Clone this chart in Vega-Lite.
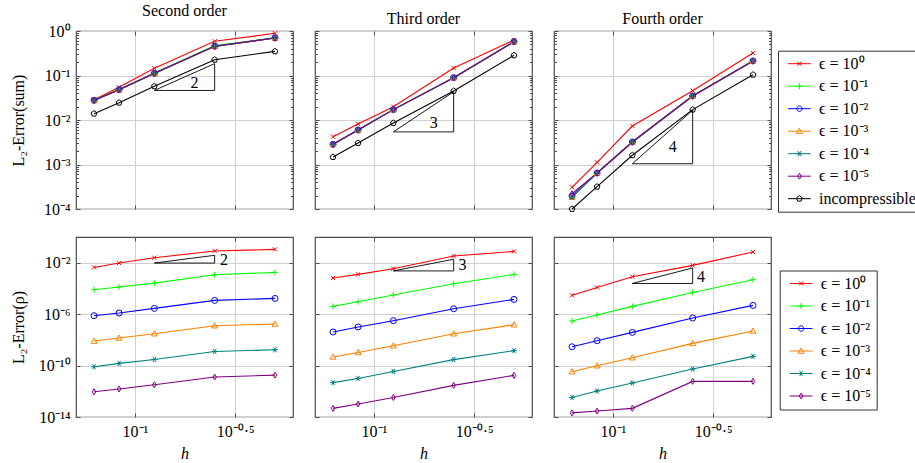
{
"$schema": "https://vega.github.io/schema/vega-lite/v6.json",
"padding": {"left": 9, "top": 2, "right": 0, "bottom": 0},
"datasets": {
"curves": [
{"row":"sum","panel":"Second order","series":"ϵ = 10⁰","h":0.0625,"err":0.0286},
{"row":"sum","panel":"Second order","series":"ϵ = 10⁰","h":0.08333,"err":0.0543},
{"row":"sum","panel":"Second order","series":"ϵ = 10⁰","h":0.125,"err":0.145},
{"row":"sum","panel":"Second order","series":"ϵ = 10⁰","h":0.25,"err":0.587},
{"row":"sum","panel":"Second order","series":"ϵ = 10⁰","h":0.5,"err":0.887},
{"row":"sum","panel":"Second order","series":"ϵ = 10⁻¹","h":0.0625,"err":0.0282},
{"row":"sum","panel":"Second order","series":"ϵ = 10⁻¹","h":0.08333,"err":0.049},
{"row":"sum","panel":"Second order","series":"ϵ = 10⁻¹","h":0.125,"err":0.114},
{"row":"sum","panel":"Second order","series":"ϵ = 10⁻¹","h":0.25,"err":0.472},
{"row":"sum","panel":"Second order","series":"ϵ = 10⁻¹","h":0.5,"err":0.70},
{"row":"sum","panel":"Second order","series":"ϵ = 10⁻²","h":0.0625,"err":0.0277},
{"row":"sum","panel":"Second order","series":"ϵ = 10⁻²","h":0.08333,"err":0.048},
{"row":"sum","panel":"Second order","series":"ϵ = 10⁻²","h":0.125,"err":0.112},
{"row":"sum","panel":"Second order","series":"ϵ = 10⁻²","h":0.25,"err":0.455},
{"row":"sum","panel":"Second order","series":"ϵ = 10⁻²","h":0.5,"err":0.697},
{"row":"sum","panel":"Second order","series":"ϵ = 10⁻³","h":0.0625,"err":0.0275},
{"row":"sum","panel":"Second order","series":"ϵ = 10⁻³","h":0.08333,"err":0.0478},
{"row":"sum","panel":"Second order","series":"ϵ = 10⁻³","h":0.125,"err":0.111},
{"row":"sum","panel":"Second order","series":"ϵ = 10⁻³","h":0.25,"err":0.452},
{"row":"sum","panel":"Second order","series":"ϵ = 10⁻³","h":0.5,"err":0.695},
{"row":"sum","panel":"Second order","series":"ϵ = 10⁻⁴","h":0.0625,"err":0.0275},
{"row":"sum","panel":"Second order","series":"ϵ = 10⁻⁴","h":0.08333,"err":0.0478},
{"row":"sum","panel":"Second order","series":"ϵ = 10⁻⁴","h":0.125,"err":0.111},
{"row":"sum","panel":"Second order","series":"ϵ = 10⁻⁴","h":0.25,"err":0.452},
{"row":"sum","panel":"Second order","series":"ϵ = 10⁻⁴","h":0.5,"err":0.695},
{"row":"sum","panel":"Second order","series":"ϵ = 10⁻⁵","h":0.0625,"err":0.0277},
{"row":"sum","panel":"Second order","series":"ϵ = 10⁻⁵","h":0.08333,"err":0.048},
{"row":"sum","panel":"Second order","series":"ϵ = 10⁻⁵","h":0.125,"err":0.112},
{"row":"sum","panel":"Second order","series":"ϵ = 10⁻⁵","h":0.25,"err":0.453},
{"row":"sum","panel":"Second order","series":"ϵ = 10⁻⁵","h":0.5,"err":0.696},
{"row":"sum","panel":"Second order","series":"incompressible","h":0.0625,"err":0.0139},
{"row":"sum","panel":"Second order","series":"incompressible","h":0.08333,"err":0.0245},
{"row":"sum","panel":"Second order","series":"incompressible","h":0.125,"err":0.0572},
{"row":"sum","panel":"Second order","series":"incompressible","h":0.25,"err":0.226},
{"row":"sum","panel":"Second order","series":"incompressible","h":0.5,"err":0.349},
{"row":"sum","panel":"Third order","series":"ϵ = 10⁰","h":0.0625,"err":0.00422},
{"row":"sum","panel":"Third order","series":"ϵ = 10⁰","h":0.08333,"err":0.00813},
{"row":"sum","panel":"Third order","series":"ϵ = 10⁰","h":0.125,"err":0.0199},
{"row":"sum","panel":"Third order","series":"ϵ = 10⁰","h":0.25,"err":0.1475},
{"row":"sum","panel":"Third order","series":"ϵ = 10⁰","h":0.5,"err":0.628},
{"row":"sum","panel":"Third order","series":"ϵ = 10⁻¹","h":0.0625,"err":0.00288},
{"row":"sum","panel":"Third order","series":"ϵ = 10⁻¹","h":0.08333,"err":0.0060},
{"row":"sum","panel":"Third order","series":"ϵ = 10⁻¹","h":0.125,"err":0.0172},
{"row":"sum","panel":"Third order","series":"ϵ = 10⁻¹","h":0.25,"err":0.0895},
{"row":"sum","panel":"Third order","series":"ϵ = 10⁻¹","h":0.5,"err":0.577},
{"row":"sum","panel":"Third order","series":"ϵ = 10⁻²","h":0.0625,"err":0.00284},
{"row":"sum","panel":"Third order","series":"ϵ = 10⁻²","h":0.08333,"err":0.00596},
{"row":"sum","panel":"Third order","series":"ϵ = 10⁻²","h":0.125,"err":0.0171},
{"row":"sum","panel":"Third order","series":"ϵ = 10⁻²","h":0.25,"err":0.0893},
{"row":"sum","panel":"Third order","series":"ϵ = 10⁻²","h":0.5,"err":0.575},
{"row":"sum","panel":"Third order","series":"ϵ = 10⁻³","h":0.0625,"err":0.00284},
{"row":"sum","panel":"Third order","series":"ϵ = 10⁻³","h":0.08333,"err":0.00596},
{"row":"sum","panel":"Third order","series":"ϵ = 10⁻³","h":0.125,"err":0.0171},
{"row":"sum","panel":"Third order","series":"ϵ = 10⁻³","h":0.25,"err":0.0893},
{"row":"sum","panel":"Third order","series":"ϵ = 10⁻³","h":0.5,"err":0.575},
{"row":"sum","panel":"Third order","series":"ϵ = 10⁻⁴","h":0.0625,"err":0.00284},
{"row":"sum","panel":"Third order","series":"ϵ = 10⁻⁴","h":0.08333,"err":0.00596},
{"row":"sum","panel":"Third order","series":"ϵ = 10⁻⁴","h":0.125,"err":0.0171},
{"row":"sum","panel":"Third order","series":"ϵ = 10⁻⁴","h":0.25,"err":0.0893},
{"row":"sum","panel":"Third order","series":"ϵ = 10⁻⁴","h":0.5,"err":0.575},
{"row":"sum","panel":"Third order","series":"ϵ = 10⁻⁵","h":0.0625,"err":0.00284},
{"row":"sum","panel":"Third order","series":"ϵ = 10⁻⁵","h":0.08333,"err":0.00596},
{"row":"sum","panel":"Third order","series":"ϵ = 10⁻⁵","h":0.125,"err":0.0171},
{"row":"sum","panel":"Third order","series":"ϵ = 10⁻⁵","h":0.25,"err":0.0893},
{"row":"sum","panel":"Third order","series":"ϵ = 10⁻⁵","h":0.5,"err":0.575},
{"row":"sum","panel":"Third order","series":"incompressible","h":0.0625,"err":0.00147},
{"row":"sum","panel":"Third order","series":"incompressible","h":0.08333,"err":0.00304},
{"row":"sum","panel":"Third order","series":"incompressible","h":0.125,"err":0.00857},
{"row":"sum","panel":"Third order","series":"incompressible","h":0.25,"err":0.0449},
{"row":"sum","panel":"Third order","series":"incompressible","h":0.5,"err":0.284},
{"row":"sum","panel":"Fourth order","series":"ϵ = 10⁰","h":0.0625,"err":0.000307},
{"row":"sum","panel":"Fourth order","series":"ϵ = 10⁰","h":0.08333,"err":0.00112},
{"row":"sum","panel":"Fourth order","series":"ϵ = 10⁰","h":0.125,"err":0.00733},
{"row":"sum","panel":"Fourth order","series":"ϵ = 10⁰","h":0.25,"err":0.0456},
{"row":"sum","panel":"Fourth order","series":"ϵ = 10⁰","h":0.5,"err":0.32},
{"row":"sum","panel":"Fourth order","series":"ϵ = 10⁻¹","h":0.0625,"err":0.00019},
{"row":"sum","panel":"Fourth order","series":"ϵ = 10⁻¹","h":0.08333,"err":0.00065},
{"row":"sum","panel":"Fourth order","series":"ϵ = 10⁻¹","h":0.125,"err":0.00325},
{"row":"sum","panel":"Fourth order","series":"ϵ = 10⁻¹","h":0.25,"err":0.0352},
{"row":"sum","panel":"Fourth order","series":"ϵ = 10⁻¹","h":0.5,"err":0.213},
{"row":"sum","panel":"Fourth order","series":"ϵ = 10⁻²","h":0.0625,"err":0.000195},
{"row":"sum","panel":"Fourth order","series":"ϵ = 10⁻²","h":0.08333,"err":0.000644},
{"row":"sum","panel":"Fourth order","series":"ϵ = 10⁻²","h":0.125,"err":0.0032},
{"row":"sum","panel":"Fourth order","series":"ϵ = 10⁻²","h":0.25,"err":0.0346},
{"row":"sum","panel":"Fourth order","series":"ϵ = 10⁻²","h":0.5,"err":0.212},
{"row":"sum","panel":"Fourth order","series":"ϵ = 10⁻³","h":0.0625,"err":0.000185},
{"row":"sum","panel":"Fourth order","series":"ϵ = 10⁻³","h":0.08333,"err":0.00064},
{"row":"sum","panel":"Fourth order","series":"ϵ = 10⁻³","h":0.125,"err":0.0032},
{"row":"sum","panel":"Fourth order","series":"ϵ = 10⁻³","h":0.25,"err":0.0346},
{"row":"sum","panel":"Fourth order","series":"ϵ = 10⁻³","h":0.5,"err":0.212},
{"row":"sum","panel":"Fourth order","series":"ϵ = 10⁻⁴","h":0.0625,"err":0.000185},
{"row":"sum","panel":"Fourth order","series":"ϵ = 10⁻⁴","h":0.08333,"err":0.00064},
{"row":"sum","panel":"Fourth order","series":"ϵ = 10⁻⁴","h":0.125,"err":0.0032},
{"row":"sum","panel":"Fourth order","series":"ϵ = 10⁻⁴","h":0.25,"err":0.0346},
{"row":"sum","panel":"Fourth order","series":"ϵ = 10⁻⁴","h":0.5,"err":0.212},
{"row":"sum","panel":"Fourth order","series":"ϵ = 10⁻⁵","h":0.0625,"err":0.00022},
{"row":"sum","panel":"Fourth order","series":"ϵ = 10⁻⁵","h":0.08333,"err":0.000644},
{"row":"sum","panel":"Fourth order","series":"ϵ = 10⁻⁵","h":0.125,"err":0.0032},
{"row":"sum","panel":"Fourth order","series":"ϵ = 10⁻⁵","h":0.25,"err":0.0346},
{"row":"sum","panel":"Fourth order","series":"ϵ = 10⁻⁵","h":0.5,"err":0.212},
{"row":"sum","panel":"Fourth order","series":"incompressible","h":0.0625,"err":0.0001},
{"row":"sum","panel":"Fourth order","series":"incompressible","h":0.08333,"err":0.000317},
{"row":"sum","panel":"Fourth order","series":"incompressible","h":0.125,"err":0.00161},
{"row":"sum","panel":"Fourth order","series":"incompressible","h":0.25,"err":0.0171},
{"row":"sum","panel":"Fourth order","series":"incompressible","h":0.5,"err":0.104},
{"row":"rho","panel":"Second order","series":"ϵ = 10⁰","h":0.0625,"err":0.0043},
{"row":"rho","panel":"Second order","series":"ϵ = 10⁰","h":0.08333,"err":0.0095},
{"row":"rho","panel":"Second order","series":"ϵ = 10⁰","h":0.125,"err":0.0245},
{"row":"rho","panel":"Second order","series":"ϵ = 10⁰","h":0.25,"err":0.081},
{"row":"rho","panel":"Second order","series":"ϵ = 10⁰","h":0.5,"err":0.109},
{"row":"rho","panel":"Second order","series":"ϵ = 10⁻¹","h":0.0625,"err":7.9e-5},
{"row":"rho","panel":"Second order","series":"ϵ = 10⁻¹","h":0.08333,"err":1.29e-4},
{"row":"rho","panel":"Second order","series":"ϵ = 10⁻¹","h":0.125,"err":2.6e-4},
{"row":"rho","panel":"Second order","series":"ϵ = 10⁻¹","h":0.25,"err":1.17e-3},
{"row":"rho","panel":"Second order","series":"ϵ = 10⁻¹","h":0.5,"err":1.77e-3},
{"row":"rho","panel":"Second order","series":"ϵ = 10⁻²","h":0.0625,"err":7.6e-7},
{"row":"rho","panel":"Second order","series":"ϵ = 10⁻²","h":0.08333,"err":1.23e-6},
{"row":"rho","panel":"Second order","series":"ϵ = 10⁻²","h":0.125,"err":2.8e-6},
{"row":"rho","panel":"Second order","series":"ϵ = 10⁻²","h":0.25,"err":1.17e-5},
{"row":"rho","panel":"Second order","series":"ϵ = 10⁻²","h":0.5,"err":1.67e-5},
{"row":"rho","panel":"Second order","series":"ϵ = 10⁻³","h":0.0625,"err":8.1e-9},
{"row":"rho","panel":"Second order","series":"ϵ = 10⁻³","h":0.08333,"err":1.39e-8},
{"row":"rho","panel":"Second order","series":"ϵ = 10⁻³","h":0.125,"err":3.0e-8},
{"row":"rho","panel":"Second order","series":"ϵ = 10⁻³","h":0.25,"err":1.26e-7},
{"row":"rho","panel":"Second order","series":"ϵ = 10⁻³","h":0.5,"err":1.7e-7},
{"row":"rho","panel":"Second order","series":"ϵ = 10⁻⁴","h":0.0625,"err":8.1e-11},
{"row":"rho","panel":"Second order","series":"ϵ = 10⁻⁴","h":0.08333,"err":1.47e-10},
{"row":"rho","panel":"Second order","series":"ϵ = 10⁻⁴","h":0.125,"err":3.0e-10},
{"row":"rho","panel":"Second order","series":"ϵ = 10⁻⁴","h":0.25,"err":1.26e-9},
{"row":"rho","panel":"Second order","series":"ϵ = 10⁻⁴","h":0.5,"err":1.7e-9},
{"row":"rho","panel":"Second order","series":"ϵ = 10⁻⁵","h":0.0625,"err":9.1e-13},
{"row":"rho","panel":"Second order","series":"ϵ = 10⁻⁵","h":0.08333,"err":1.5e-12},
{"row":"rho","panel":"Second order","series":"ϵ = 10⁻⁵","h":0.125,"err":3.2e-12},
{"row":"rho","panel":"Second order","series":"ϵ = 10⁻⁵","h":0.25,"err":1.28e-11},
{"row":"rho","panel":"Second order","series":"ϵ = 10⁻⁵","h":0.5,"err":1.8e-11},
{"row":"rho","panel":"Third order","series":"ϵ = 10⁰","h":0.0625,"err":6.5e-4},
{"row":"rho","panel":"Third order","series":"ϵ = 10⁰","h":0.08333,"err":1.23e-3},
{"row":"rho","panel":"Third order","series":"ϵ = 10⁰","h":0.125,"err":3.4e-3},
{"row":"rho","panel":"Third order","series":"ϵ = 10⁰","h":0.25,"err":0.033},
{"row":"rho","panel":"Third order","series":"ϵ = 10⁰","h":0.5,"err":0.076},
{"row":"rho","panel":"Third order","series":"ϵ = 10⁻¹","h":0.0625,"err":4.0e-6},
{"row":"rho","panel":"Third order","series":"ϵ = 10⁻¹","h":0.08333,"err":9.3e-6},
{"row":"rho","panel":"Third order","series":"ϵ = 10⁻¹","h":0.125,"err":3.1e-5},
{"row":"rho","panel":"Third order","series":"ϵ = 10⁻¹","h":0.25,"err":2.3e-4},
{"row":"rho","panel":"Third order","series":"ϵ = 10⁻¹","h":0.5,"err":1.23e-3},
{"row":"rho","panel":"Third order","series":"ϵ = 10⁻²","h":0.0625,"err":4.1e-8},
{"row":"rho","panel":"Third order","series":"ϵ = 10⁻²","h":0.08333,"err":1.0e-7},
{"row":"rho","panel":"Third order","series":"ϵ = 10⁻²","h":0.125,"err":3.1e-7},
{"row":"rho","panel":"Third order","series":"ϵ = 10⁻²","h":0.25,"err":2.6e-6},
{"row":"rho","panel":"Third order","series":"ϵ = 10⁻²","h":0.5,"err":1.4e-5},
{"row":"rho","panel":"Third order","series":"ϵ = 10⁻³","h":0.0625,"err":4.7e-10},
{"row":"rho","panel":"Third order","series":"ϵ = 10⁻³","h":0.08333,"err":1.05e-9},
{"row":"rho","panel":"Third order","series":"ϵ = 10⁻³","h":0.125,"err":3.5e-9},
{"row":"rho","panel":"Third order","series":"ϵ = 10⁻³","h":0.25,"err":3.0e-8},
{"row":"rho","panel":"Third order","series":"ϵ = 10⁻³","h":0.5,"err":1.5e-7},
{"row":"rho","panel":"Third order","series":"ϵ = 10⁻⁴","h":0.0625,"err":4.7e-12},
{"row":"rho","panel":"Third order","series":"ϵ = 10⁻⁴","h":0.08333,"err":1.0e-11},
{"row":"rho","panel":"Third order","series":"ϵ = 10⁻⁴","h":0.125,"err":3.5e-11},
{"row":"rho","panel":"Third order","series":"ϵ = 10⁻⁴","h":0.25,"err":2.9e-10},
{"row":"rho","panel":"Third order","series":"ϵ = 10⁻⁴","h":0.5,"err":1.44e-9},
{"row":"rho","panel":"Third order","series":"ϵ = 10⁻⁵","h":0.0625,"err":4.7e-14},
{"row":"rho","panel":"Third order","series":"ϵ = 10⁻⁵","h":0.08333,"err":1.02e-13},
{"row":"rho","panel":"Third order","series":"ϵ = 10⁻⁵","h":0.125,"err":3.3e-13},
{"row":"rho","panel":"Third order","series":"ϵ = 10⁻⁵","h":0.25,"err":2.9e-12},
{"row":"rho","panel":"Third order","series":"ϵ = 10⁻⁵","h":0.5,"err":1.73e-11},
{"row":"rho","panel":"Fourth order","series":"ϵ = 10⁰","h":0.0625,"err":2.9e-5},
{"row":"rho","panel":"Fourth order","series":"ϵ = 10⁰","h":0.08333,"err":1.2e-4},
{"row":"rho","panel":"Fourth order","series":"ϵ = 10⁰","h":0.125,"err":8.2e-4},
{"row":"rho","panel":"Fourth order","series":"ϵ = 10⁰","h":0.25,"err":6.2e-3},
{"row":"rho","panel":"Fourth order","series":"ϵ = 10⁰","h":0.5,"err":0.068},
{"row":"rho","panel":"Fourth order","series":"ϵ = 10⁻¹","h":0.0625,"err":2.9e-7},
{"row":"rho","panel":"Fourth order","series":"ϵ = 10⁻¹","h":0.08333,"err":8.5e-7},
{"row":"rho","panel":"Fourth order","series":"ϵ = 10⁻¹","h":0.125,"err":4.0e-6},
{"row":"rho","panel":"Fourth order","series":"ϵ = 10⁻¹","h":0.25,"err":4.9e-5},
{"row":"rho","panel":"Fourth order","series":"ϵ = 10⁻¹","h":0.5,"err":4.8e-4},
{"row":"rho","panel":"Fourth order","series":"ϵ = 10⁻²","h":0.0625,"err":2.9e-9},
{"row":"rho","panel":"Fourth order","series":"ϵ = 10⁻²","h":0.08333,"err":8.5e-9},
{"row":"rho","panel":"Fourth order","series":"ϵ = 10⁻²","h":0.125,"err":3.8e-8},
{"row":"rho","panel":"Fourth order","series":"ϵ = 10⁻²","h":0.25,"err":5.0e-7},
{"row":"rho","panel":"Fourth order","series":"ϵ = 10⁻²","h":0.5,"err":4.8e-6},
{"row":"rho","panel":"Fourth order","series":"ϵ = 10⁻³","h":0.0625,"err":3.3e-11},
{"row":"rho","panel":"Fourth order","series":"ϵ = 10⁻³","h":0.08333,"err":9.7e-11},
{"row":"rho","panel":"Fourth order","series":"ϵ = 10⁻³","h":0.125,"err":4.1e-10},
{"row":"rho","panel":"Fourth order","series":"ϵ = 10⁻³","h":0.25,"err":5.3e-9},
{"row":"rho","panel":"Fourth order","series":"ϵ = 10⁻³","h":0.5,"err":4.9e-8},
{"row":"rho","panel":"Fourth order","series":"ϵ = 10⁻⁴","h":0.0625,"err":3.3e-13},
{"row":"rho","panel":"Fourth order","series":"ϵ = 10⁻⁴","h":0.08333,"err":1.05e-12},
{"row":"rho","panel":"Fourth order","series":"ϵ = 10⁻⁴","h":0.125,"err":4.4e-12},
{"row":"rho","panel":"Fourth order","series":"ϵ = 10⁻⁴","h":0.25,"err":5.4e-11},
{"row":"rho","panel":"Fourth order","series":"ϵ = 10⁻⁴","h":0.5,"err":5.2e-10},
{"row":"rho","panel":"Fourth order","series":"ϵ = 10⁻⁵","h":0.0625,"err":2.1e-14},
{"row":"rho","panel":"Fourth order","series":"ϵ = 10⁻⁵","h":0.08333,"err":2.9e-14},
{"row":"rho","panel":"Fourth order","series":"ϵ = 10⁻⁵","h":0.125,"err":4.7e-14},
{"row":"rho","panel":"Fourth order","series":"ϵ = 10⁻⁵","h":0.25,"err":5.9e-12},
{"row":"rho","panel":"Fourth order","series":"ϵ = 10⁻⁵","h":0.5,"err":5.9e-12}
],
"tri": [
{"row":"sum","panel":"Second order","pt":1,"h":0.125,"err":0.0462},
{"row":"sum","panel":"Second order","pt":2,"h":0.25,"err":0.0462},
{"row":"sum","panel":"Second order","pt":3,"h":0.25,"err":0.185},
{"row":"sum","panel":"Second order","pt":4,"h":0.125,"err":0.0462},
{"row":"sum","panel":"Third order","pt":1,"h":0.125,"err":0.0054},
{"row":"sum","panel":"Third order","pt":2,"h":0.25,"err":0.0054},
{"row":"sum","panel":"Third order","pt":3,"h":0.25,"err":0.0432},
{"row":"sum","panel":"Third order","pt":4,"h":0.125,"err":0.0054},
{"row":"sum","panel":"Fourth order","pt":1,"h":0.125,"err":0.00104},
{"row":"sum","panel":"Fourth order","pt":2,"h":0.25,"err":0.00104},
{"row":"sum","panel":"Fourth order","pt":3,"h":0.25,"err":0.0166},
{"row":"sum","panel":"Fourth order","pt":4,"h":0.125,"err":0.00104},
{"row":"rho","panel":"Second order","pt":1,"h":0.125,"err":0.0094},
{"row":"rho","panel":"Second order","pt":2,"h":0.25,"err":0.0094},
{"row":"rho","panel":"Second order","pt":3,"h":0.25,"err":0.0377},
{"row":"rho","panel":"Second order","pt":4,"h":0.125,"err":0.0094},
{"row":"rho","panel":"Third order","pt":1,"h":0.125,"err":0.0023},
{"row":"rho","panel":"Third order","pt":2,"h":0.25,"err":0.0023},
{"row":"rho","panel":"Third order","pt":3,"h":0.25,"err":0.0185},
{"row":"rho","panel":"Third order","pt":4,"h":0.125,"err":0.0023},
{"row":"rho","panel":"Fourth order","pt":1,"h":0.125,"err":0.000244},
{"row":"rho","panel":"Fourth order","pt":2,"h":0.25,"err":0.000244},
{"row":"rho","panel":"Fourth order","pt":3,"h":0.25,"err":0.0039},
{"row":"rho","panel":"Fourth order","pt":4,"h":0.125,"err":0.000244}
],
"slope": [
{"row":"sum","panel":"Second order","h":0.198,"err":0.0668,"label":"2"},
{"row":"sum","panel":"Third order","h":0.1986,"err":0.0087,"label":"3"},
{"row":"sum","panel":"Fourth order","h":0.1986,"err":0.0025,"label":"4"},
{"row":"rho","panel":"Second order","h":0.2786,"err":0.0162,"label":"2"},
{"row":"rho","panel":"Third order","h":0.277,"err":0.0062,"label":"3"},
{"row":"rho","panel":"Fourth order","h":0.275,"err":0.00078,"label":"4"}
]
},
"config": {
"font": "Liberation Serif",
"view": {"stroke": "#4d4d4d", "strokeWidth": 1.2},
"axis": {"labelFont": "Liberation Serif", "labelFontSize": 16, "labelColor": "black", "titleFont": "Liberation Serif", "titleFontSize": 16, "titleFontWeight": "normal", "titleColor": "black", "domain": false, "tickColor": "#4d4d4d", "tickWidth": 1, "gridColor": "#d0d0d0", "gridWidth": 1, "labelFlush": false, "labelOverlap": false},
"title": {"font": "Liberation Serif", "fontSize": 16, "fontWeight": "normal", "color": "black", "offset": 4},
"legend": {"labelFont": "Liberation Serif", "labelFontSize": 16, "labelColor": "black", "symbolSize": 36, "symbolStrokeWidth": 1, "rowPadding": 6.5, "padding": 5, "strokeColor": "#333333", "fillColor": "white", "labelOffset": 20}
},
"spacing": 17,
"resolve": {"scale": {"color": "independent", "shape": "independent"}, "legend": {"color": "independent", "shape": "independent"}},
"vconcat": [
{"spacing": 18, "hconcat": [
{"width": 217, "height": 178, "title": "Second order",
 "resolve": {"axis": {"x": "independent", "y": "independent"}},
 "layer": [
 {"data": {"name": "curves"}, "transform": [{"filter": "datum.row == 'sum' && datum.panel == 'Second order'"}],
  "mark": {"type": "line", "strokeWidth": 1.1},
  "encoding": {
   "x": {"field": "h", "type": "quantitative", "scale": {"type": "log", "domain": [0.0508, 0.615], "nice": false}, "axis": {"orient": "bottom", "values": [0.1, 0.316228], "labels": false, "tickSize": -4, "grid": true, "title": null}},
   "y": {"field": "err", "type": "quantitative", "scale": {"type": "log", "domain": [0.0001, 1], "nice": false}, "axis": {"orient": "left", "values": [0.0001, 0.001, 0.01, 0.1, 1], "labelExpr": "'10' + ['⁰','⁻¹','⁻²','⁻³','⁻⁴','⁻⁵','⁻⁶','⁻⁷','⁻⁸','⁻⁹','⁻¹⁰','⁻¹¹','⁻¹²','⁻¹³','⁻¹⁴'][round(-log(datum.value)/LN10)]", "tickSize": -4, "labelPadding": 10, "grid": true, "title": "L₂-Error(sum)", "titlePadding": 10, "minExtent": 40, "maxExtent": 40}},
   "color": {"field": "series", "type": "nominal", "scale": {"domain": ["ϵ = 10⁰","ϵ = 10⁻¹","ϵ = 10⁻²","ϵ = 10⁻³","ϵ = 10⁻⁴","ϵ = 10⁻⁵","incompressible"], "range": ["#ff0000","#00ff00","#0000ff","#ff8000","#008080","#800080","#000000"]}, "legend": {"title": null, "orient": "none", "legendX": 702, "legendY": 19.7, "encode": {"symbols": {"update": {"fill": {"value": "transparent"}, "strokeWidth": {"value": 1}, "opacity": {"value": 1}, "shape": {"signal": "['M-1,0L6.6,0M2.1,-0.7L3.5,0.7M2.1,0.7L3.5,-0.7','M-1,0L6.6,0M1.8,0L3.8,0M2.8,-1L2.8,1','M-1,0L6.6,0M3.7,0A0.9,0.9,0,1,1,1.9,0A0.9,0.9,0,1,1,3.7,0','M-1,0L6.6,0M2.8,-1L3.8,0.75L1.8,0.75Z','M-1,0L6.6,0M1.8,0L3.8,0M2.3,-0.87L3.3,0.87M2.3,0.87L3.3,-0.87','M-1,0L6.6,0M2.8,-1L3.4,0L2.8,1L2.2,0Z','M-1,0L6.6,0M2.8,-1L3.75,-0.31L3.39,0.81L2.21,0.81L1.85,-0.31Z'][indexof(['ϵ = 10⁰','ϵ = 10⁻¹','ϵ = 10⁻²','ϵ = 10⁻³','ϵ = 10⁻⁴','ϵ = 10⁻⁵','incompressible'], datum.value)]"}}}}}}
  }},
 {"data": {"name": "curves"}, "transform": [{"filter": "datum.row == 'sum' && datum.panel == 'Second order'"}],
  "mark": {"type": "point", "filled": false, "size": 36, "strokeWidth": 1, "opacity": 1},
  "encoding": {
   "x": {"field": "h", "type": "quantitative", "scale": {"type": "log", "domain": [0.0508, 0.615], "nice": false}, "axis": {"orient": "top", "values": [0.1, 0.316228], "labels": false, "tickSize": -4, "grid": false, "title": null}},
   "y": {"field": "err", "type": "quantitative", "scale": {"type": "log", "domain": [0.0001, 1], "nice": false}, "axis": {"orient": "right", "values": [0.0001, 0.001, 0.01, 0.1, 1], "labels": false, "tickSize": -4, "grid": false, "title": null}},
   "color": {"field": "series", "type": "nominal", "scale": {"domain": ["ϵ = 10⁰","ϵ = 10⁻¹","ϵ = 10⁻²","ϵ = 10⁻³","ϵ = 10⁻⁴","ϵ = 10⁻⁵","incompressible"], "range": ["#ff0000","#00ff00","#0000ff","#ff8000","#008080","#800080","#000000"]}, "legend": {"title": null, "orient": "none", "legendX": 702, "legendY": 19.7}},
   "shape": {"field": "series", "type": "nominal", "scale": {"domain": ["incompressible","ϵ = 10⁻⁵","ϵ = 10⁻⁴","ϵ = 10⁻³","ϵ = 10⁻²","ϵ = 10⁻¹","ϵ = 10⁰"], "range": ["M0,-1L0.95,-0.31L0.59,0.81L-0.59,0.81L-0.95,-0.31Z","M0,-1L0.6,0L0,1L-0.6,0Z","M-1,0L1,0M-0.5,-0.87L0.5,0.87M-0.5,0.87L0.5,-0.87","M0,-1L1,0.75L-1,0.75Z","circle","M-1,0L1,0M0,-1L0,1","M-0.7,-0.7L0.7,0.7M-0.7,0.7L0.7,-0.7"]}, "legend": null}
  }},
 {"data": {"name": "tri"}, "transform": [{"filter": "datum.row == 'sum' && datum.panel == 'Second order'"}],
  "mark": {"type": "line", "color": "black", "strokeWidth": 0.9},
  "encoding": {
   "x": {"field": "h", "type": "quantitative", "scale": {"type": "log", "domain": [0.0508, 0.615], "nice": false}, "axis": null},
   "y": {"field": "err", "type": "quantitative", "scale": {"type": "log", "domain": [0.0001, 1], "nice": false}, "axis": {"orient": "left", "values": [0.0002,0.0003,0.0004,0.0005,0.0006,0.0007,0.0008,0.0009,0.002,0.003,0.004,0.005,0.006,0.007,0.008,0.009,0.02,0.03,0.04,0.05,0.06,0.07,0.08,0.09,0.2,0.3,0.4,0.5,0.6,0.7,0.8,0.9], "labels": false, "tickSize": -2.5, "grid": false, "title": null}},
   "order": {"field": "pt", "type": "quantitative"}
  }},
 {"data": {"name": "slope"}, "transform": [{"filter": "datum.row == 'sum' && datum.panel == 'Second order'"}],
  "mark": {"type": "text", "font": "Liberation Serif", "fontSize": 16, "color": "black"},
  "encoding": {
   "x": {"field": "h", "type": "quantitative", "scale": {"type": "log", "domain": [0.0508, 0.615], "nice": false}, "axis": null},
   "y": {"field": "err", "type": "quantitative", "scale": {"type": "log", "domain": [0.0001, 1], "nice": false}, "axis": {"orient": "right", "values": [0.0002,0.0003,0.0004,0.0005,0.0006,0.0007,0.0008,0.0009,0.002,0.003,0.004,0.005,0.006,0.007,0.008,0.009,0.02,0.03,0.04,0.05,0.06,0.07,0.08,0.09,0.2,0.3,0.4,0.5,0.6,0.7,0.8,0.9], "labels": false, "tickSize": -2.5, "grid": false, "title": null}},
   "text": {"field": "label"}
  }}
 ]},
{"width": 217, "height": 178, "title": "Third order",
 "resolve": {"axis": {"x": "independent", "y": "independent"}},
 "layer": [
 {"data": {"name": "curves"}, "transform": [{"filter": "datum.row == 'sum' && datum.panel == 'Third order'"}],
  "mark": {"type": "line", "strokeWidth": 1.1},
  "encoding": {
   "x": {"field": "h", "type": "quantitative", "scale": {"type": "log", "domain": [0.0508, 0.615], "nice": false}, "axis": {"orient": "bottom", "values": [0.1, 0.316228], "labels": false, "tickSize": -4, "grid": true, "title": null}},
   "y": {"field": "err", "type": "quantitative", "scale": {"type": "log", "domain": [0.0001, 1], "nice": false}, "axis": {"orient": "left", "values": [0.0001, 0.001, 0.01, 0.1, 1], "labels": false, "tickSize": -4, "grid": true, "title": null}},
   "color": {"field": "series", "type": "nominal", "scale": {"domain": ["ϵ = 10⁰","ϵ = 10⁻¹","ϵ = 10⁻²","ϵ = 10⁻³","ϵ = 10⁻⁴","ϵ = 10⁻⁵","incompressible"], "range": ["#ff0000","#00ff00","#0000ff","#ff8000","#008080","#800080","#000000"]}}
  }},
 {"data": {"name": "curves"}, "transform": [{"filter": "datum.row == 'sum' && datum.panel == 'Third order'"}],
  "mark": {"type": "point", "filled": false, "size": 36, "strokeWidth": 1, "opacity": 1},
  "encoding": {
   "x": {"field": "h", "type": "quantitative", "scale": {"type": "log", "domain": [0.0508, 0.615], "nice": false}, "axis": {"orient": "top", "values": [0.1, 0.316228], "labels": false, "tickSize": -4, "grid": false, "title": null}},
   "y": {"field": "err", "type": "quantitative", "scale": {"type": "log", "domain": [0.0001, 1], "nice": false}, "axis": {"orient": "right", "values": [0.0001, 0.001, 0.01, 0.1, 1], "labels": false, "tickSize": -4, "grid": false, "title": null}},
   "color": {"field": "series", "type": "nominal", "scale": {"domain": ["ϵ = 10⁰","ϵ = 10⁻¹","ϵ = 10⁻²","ϵ = 10⁻³","ϵ = 10⁻⁴","ϵ = 10⁻⁵","incompressible"], "range": ["#ff0000","#00ff00","#0000ff","#ff8000","#008080","#800080","#000000"]}},
   "shape": {"field": "series", "type": "nominal", "scale": {"domain": ["incompressible","ϵ = 10⁻⁵","ϵ = 10⁻⁴","ϵ = 10⁻³","ϵ = 10⁻²","ϵ = 10⁻¹","ϵ = 10⁰"], "range": ["M0,-1L0.95,-0.31L0.59,0.81L-0.59,0.81L-0.95,-0.31Z","M0,-1L0.6,0L0,1L-0.6,0Z","M-1,0L1,0M-0.5,-0.87L0.5,0.87M-0.5,0.87L0.5,-0.87","M0,-1L1,0.75L-1,0.75Z","circle","M-1,0L1,0M0,-1L0,1","M-0.7,-0.7L0.7,0.7M-0.7,0.7L0.7,-0.7"]}, "legend": null}
  }},
 {"data": {"name": "tri"}, "transform": [{"filter": "datum.row == 'sum' && datum.panel == 'Third order'"}],
  "mark": {"type": "line", "color": "black", "strokeWidth": 0.9},
  "encoding": {
   "x": {"field": "h", "type": "quantitative", "scale": {"type": "log", "domain": [0.0508, 0.615], "nice": false}, "axis": null},
   "y": {"field": "err", "type": "quantitative", "scale": {"type": "log", "domain": [0.0001, 1], "nice": false}, "axis": {"orient": "left", "values": [0.0002,0.0003,0.0004,0.0005,0.0006,0.0007,0.0008,0.0009,0.002,0.003,0.004,0.005,0.006,0.007,0.008,0.009,0.02,0.03,0.04,0.05,0.06,0.07,0.08,0.09,0.2,0.3,0.4,0.5,0.6,0.7,0.8,0.9], "labels": false, "tickSize": -2.5, "grid": false, "title": null}},
   "order": {"field": "pt", "type": "quantitative"}
  }},
 {"data": {"name": "slope"}, "transform": [{"filter": "datum.row == 'sum' && datum.panel == 'Third order'"}],
  "mark": {"type": "text", "font": "Liberation Serif", "fontSize": 16, "color": "black"},
  "encoding": {
   "x": {"field": "h", "type": "quantitative", "scale": {"type": "log", "domain": [0.0508, 0.615], "nice": false}, "axis": null},
   "y": {"field": "err", "type": "quantitative", "scale": {"type": "log", "domain": [0.0001, 1], "nice": false}, "axis": {"orient": "right", "values": [0.0002,0.0003,0.0004,0.0005,0.0006,0.0007,0.0008,0.0009,0.002,0.003,0.004,0.005,0.006,0.007,0.008,0.009,0.02,0.03,0.04,0.05,0.06,0.07,0.08,0.09,0.2,0.3,0.4,0.5,0.6,0.7,0.8,0.9], "labels": false, "tickSize": -2.5, "grid": false, "title": null}},
   "text": {"field": "label"}
  }}
 ]},
{"width": 217, "height": 178, "title": "Fourth order",
 "resolve": {"axis": {"x": "independent", "y": "independent"}},
 "layer": [
 {"data": {"name": "curves"}, "transform": [{"filter": "datum.row == 'sum' && datum.panel == 'Fourth order'"}],
  "mark": {"type": "line", "strokeWidth": 1.1},
  "encoding": {
   "x": {"field": "h", "type": "quantitative", "scale": {"type": "log", "domain": [0.0508, 0.615], "nice": false}, "axis": {"orient": "bottom", "values": [0.1, 0.316228], "labels": false, "tickSize": -4, "grid": true, "title": null}},
   "y": {"field": "err", "type": "quantitative", "scale": {"type": "log", "domain": [0.0001, 1], "nice": false}, "axis": {"orient": "left", "values": [0.0001, 0.001, 0.01, 0.1, 1], "labels": false, "tickSize": -4, "grid": true, "title": null}},
   "color": {"field": "series", "type": "nominal", "scale": {"domain": ["ϵ = 10⁰","ϵ = 10⁻¹","ϵ = 10⁻²","ϵ = 10⁻³","ϵ = 10⁻⁴","ϵ = 10⁻⁵","incompressible"], "range": ["#ff0000","#00ff00","#0000ff","#ff8000","#008080","#800080","#000000"]}}
  }},
 {"data": {"name": "curves"}, "transform": [{"filter": "datum.row == 'sum' && datum.panel == 'Fourth order'"}],
  "mark": {"type": "point", "filled": false, "size": 36, "strokeWidth": 1, "opacity": 1},
  "encoding": {
   "x": {"field": "h", "type": "quantitative", "scale": {"type": "log", "domain": [0.0508, 0.615], "nice": false}, "axis": {"orient": "top", "values": [0.1, 0.316228], "labels": false, "tickSize": -4, "grid": false, "title": null}},
   "y": {"field": "err", "type": "quantitative", "scale": {"type": "log", "domain": [0.0001, 1], "nice": false}, "axis": {"orient": "right", "values": [0.0001, 0.001, 0.01, 0.1, 1], "labels": false, "tickSize": -4, "grid": false, "title": null}},
   "color": {"field": "series", "type": "nominal", "scale": {"domain": ["ϵ = 10⁰","ϵ = 10⁻¹","ϵ = 10⁻²","ϵ = 10⁻³","ϵ = 10⁻⁴","ϵ = 10⁻⁵","incompressible"], "range": ["#ff0000","#00ff00","#0000ff","#ff8000","#008080","#800080","#000000"]}},
   "shape": {"field": "series", "type": "nominal", "scale": {"domain": ["incompressible","ϵ = 10⁻⁵","ϵ = 10⁻⁴","ϵ = 10⁻³","ϵ = 10⁻²","ϵ = 10⁻¹","ϵ = 10⁰"], "range": ["M0,-1L0.95,-0.31L0.59,0.81L-0.59,0.81L-0.95,-0.31Z","M0,-1L0.6,0L0,1L-0.6,0Z","M-1,0L1,0M-0.5,-0.87L0.5,0.87M-0.5,0.87L0.5,-0.87","M0,-1L1,0.75L-1,0.75Z","circle","M-1,0L1,0M0,-1L0,1","M-0.7,-0.7L0.7,0.7M-0.7,0.7L0.7,-0.7"]}, "legend": null}
  }},
 {"data": {"name": "tri"}, "transform": [{"filter": "datum.row == 'sum' && datum.panel == 'Fourth order'"}],
  "mark": {"type": "line", "color": "black", "strokeWidth": 0.9},
  "encoding": {
   "x": {"field": "h", "type": "quantitative", "scale": {"type": "log", "domain": [0.0508, 0.615], "nice": false}, "axis": null},
   "y": {"field": "err", "type": "quantitative", "scale": {"type": "log", "domain": [0.0001, 1], "nice": false}, "axis": {"orient": "left", "values": [0.0002,0.0003,0.0004,0.0005,0.0006,0.0007,0.0008,0.0009,0.002,0.003,0.004,0.005,0.006,0.007,0.008,0.009,0.02,0.03,0.04,0.05,0.06,0.07,0.08,0.09,0.2,0.3,0.4,0.5,0.6,0.7,0.8,0.9], "labels": false, "tickSize": -2.5, "grid": false, "title": null}},
   "order": {"field": "pt", "type": "quantitative"}
  }},
 {"data": {"name": "slope"}, "transform": [{"filter": "datum.row == 'sum' && datum.panel == 'Fourth order'"}],
  "mark": {"type": "text", "font": "Liberation Serif", "fontSize": 16, "color": "black"},
  "encoding": {
   "x": {"field": "h", "type": "quantitative", "scale": {"type": "log", "domain": [0.0508, 0.615], "nice": false}, "axis": null},
   "y": {"field": "err", "type": "quantitative", "scale": {"type": "log", "domain": [0.0001, 1], "nice": false}, "axis": {"orient": "right", "values": [0.0002,0.0003,0.0004,0.0005,0.0006,0.0007,0.0008,0.0009,0.002,0.003,0.004,0.005,0.006,0.007,0.008,0.009,0.02,0.03,0.04,0.05,0.06,0.07,0.08,0.09,0.2,0.3,0.4,0.5,0.6,0.7,0.8,0.9], "labels": false, "tickSize": -2.5, "grid": false, "title": null}},
   "text": {"field": "label"}
  }}
 ]}
]},
{"spacing": 18, "hconcat": [
{"width": 217, "height": 180,
 "resolve": {"axis": {"x": "independent", "y": "independent"}},
 "layer": [
 {"data": {"name": "curves"}, "transform": [{"filter": "datum.row == 'rho' && datum.panel == 'Second order'"}],
  "mark": {"type": "line", "strokeWidth": 1.1},
  "encoding": {
   "x": {"field": "h", "type": "quantitative", "scale": {"type": "log", "domain": [0.0508, 0.615], "nice": false}, "axis": {"orient": "bottom", "values": [0.1, 0.316228], "labelExpr": "datum.value < 0.2 ? '10⁻¹' : '10⁻⁰·⁵'", "tickSize": -4, "labelPadding": 10, "grid": true, "title": "h", "titleFontStyle": "italic", "titlePadding": 6}},
   "y": {"field": "err", "type": "quantitative", "scale": {"type": "log", "domain": [1e-14, 1], "nice": false}, "axis": {"orient": "left", "values": [1e-14, 1e-10, 1e-6, 0.01], "labelExpr": "'10' + ['⁰','⁻¹','⁻²','⁻³','⁻⁴','⁻⁵','⁻⁶','⁻⁷','⁻⁸','⁻⁹','⁻¹⁰','⁻¹¹','⁻¹²','⁻¹³','⁻¹⁴'][round(-log(datum.value)/LN10)]", "tickSize": -4, "labelPadding": 10, "grid": true, "title": "L₂-Error(ρ)", "titlePadding": 10, "minExtent": 40, "maxExtent": 40}},
   "color": {"field": "series", "type": "nominal", "scale": {"domain": ["ϵ = 10⁰","ϵ = 10⁻¹","ϵ = 10⁻²","ϵ = 10⁻³","ϵ = 10⁻⁴","ϵ = 10⁻⁵"], "range": ["#ff0000","#00ff00","#0000ff","#ff8000","#008080","#800080"]}, "legend": {"title": null, "orient": "none", "legendX": 703.7, "legendY": 33.5, "encode": {"symbols": {"update": {"fill": {"value": "transparent"}, "strokeWidth": {"value": 1}, "opacity": {"value": 1}, "shape": {"signal": "['M-1,0L6.6,0M2.1,-0.7L3.5,0.7M2.1,0.7L3.5,-0.7','M-1,0L6.6,0M1.8,0L3.8,0M2.8,-1L2.8,1','M-1,0L6.6,0M3.7,0A0.9,0.9,0,1,1,1.9,0A0.9,0.9,0,1,1,3.7,0','M-1,0L6.6,0M2.8,-1L3.8,0.75L1.8,0.75Z','M-1,0L6.6,0M1.8,0L3.8,0M2.3,-0.87L3.3,0.87M2.3,0.87L3.3,-0.87','M-1,0L6.6,0M2.8,-1L3.4,0L2.8,1L2.2,0Z','M-1,0L6.6,0M2.8,-1L3.75,-0.31L3.39,0.81L2.21,0.81L1.85,-0.31Z'][indexof(['ϵ = 10⁰','ϵ = 10⁻¹','ϵ = 10⁻²','ϵ = 10⁻³','ϵ = 10⁻⁴','ϵ = 10⁻⁵','incompressible'], datum.value)]"}}}}}}
  }},
 {"data": {"name": "curves"}, "transform": [{"filter": "datum.row == 'rho' && datum.panel == 'Second order'"}],
  "mark": {"type": "point", "filled": false, "size": 36, "strokeWidth": 1, "opacity": 1},
  "encoding": {
   "x": {"field": "h", "type": "quantitative", "scale": {"type": "log", "domain": [0.0508, 0.615], "nice": false}, "axis": {"orient": "top", "values": [0.1, 0.316228], "labels": false, "tickSize": -4, "grid": false, "title": null}},
   "y": {"field": "err", "type": "quantitative", "scale": {"type": "log", "domain": [1e-14, 1], "nice": false}, "axis": {"orient": "right", "values": [1e-14, 1e-10, 1e-6, 0.01], "labels": false, "tickSize": -4, "grid": false, "title": null}},
   "color": {"field": "series", "type": "nominal", "scale": {"domain": ["ϵ = 10⁰","ϵ = 10⁻¹","ϵ = 10⁻²","ϵ = 10⁻³","ϵ = 10⁻⁴","ϵ = 10⁻⁵"], "range": ["#ff0000","#00ff00","#0000ff","#ff8000","#008080","#800080"]}, "legend": {"title": null, "orient": "none", "legendX": 703.7, "legendY": 33.5}},
   "shape": {"field": "series", "type": "nominal", "scale": {"domain": ["ϵ = 10⁻⁵","ϵ = 10⁻⁴","ϵ = 10⁻³","ϵ = 10⁻²","ϵ = 10⁻¹","ϵ = 10⁰"], "range": ["M0,-1L0.6,0L0,1L-0.6,0Z","M-1,0L1,0M-0.5,-0.87L0.5,0.87M-0.5,0.87L0.5,-0.87","M0,-1L1,0.75L-1,0.75Z","circle","M-1,0L1,0M0,-1L0,1","M-0.7,-0.7L0.7,0.7M-0.7,0.7L0.7,-0.7"]}, "legend": null}
  }},
 {"data": {"name": "tri"}, "transform": [{"filter": "datum.row == 'rho' && datum.panel == 'Second order'"}],
  "mark": {"type": "line", "color": "black", "strokeWidth": 0.9},
  "encoding": {
   "x": {"field": "h", "type": "quantitative", "scale": {"type": "log", "domain": [0.0508, 0.615], "nice": false}, "axis": null},
   "y": {"field": "err", "type": "quantitative", "scale": {"type": "log", "domain": [1e-14, 1], "nice": false}, "axis": null},
   "order": {"field": "pt", "type": "quantitative"}
  }},
 {"data": {"name": "slope"}, "transform": [{"filter": "datum.row == 'rho' && datum.panel == 'Second order'"}],
  "mark": {"type": "text", "font": "Liberation Serif", "fontSize": 16, "color": "black"},
  "encoding": {
   "x": {"field": "h", "type": "quantitative", "scale": {"type": "log", "domain": [0.0508, 0.615], "nice": false}, "axis": null},
   "y": {"field": "err", "type": "quantitative", "scale": {"type": "log", "domain": [1e-14, 1], "nice": false}, "axis": null},
   "text": {"field": "label"}
  }}
 ]},
{"width": 217, "height": 180,
 "resolve": {"axis": {"x": "independent", "y": "independent"}},
 "layer": [
 {"data": {"name": "curves"}, "transform": [{"filter": "datum.row == 'rho' && datum.panel == 'Third order'"}],
  "mark": {"type": "line", "strokeWidth": 1.1},
  "encoding": {
   "x": {"field": "h", "type": "quantitative", "scale": {"type": "log", "domain": [0.0508, 0.615], "nice": false}, "axis": {"orient": "bottom", "values": [0.1, 0.316228], "labelExpr": "datum.value < 0.2 ? '10⁻¹' : '10⁻⁰·⁵'", "tickSize": -4, "labelPadding": 10, "grid": true, "title": "h", "titleFontStyle": "italic", "titlePadding": 6}},
   "y": {"field": "err", "type": "quantitative", "scale": {"type": "log", "domain": [1e-14, 1], "nice": false}, "axis": {"orient": "left", "values": [1e-14, 1e-10, 1e-6, 0.01], "labels": false, "tickSize": -4, "grid": true, "title": null}},
   "color": {"field": "series", "type": "nominal", "scale": {"domain": ["ϵ = 10⁰","ϵ = 10⁻¹","ϵ = 10⁻²","ϵ = 10⁻³","ϵ = 10⁻⁴","ϵ = 10⁻⁵"], "range": ["#ff0000","#00ff00","#0000ff","#ff8000","#008080","#800080"]}}
  }},
 {"data": {"name": "curves"}, "transform": [{"filter": "datum.row == 'rho' && datum.panel == 'Third order'"}],
  "mark": {"type": "point", "filled": false, "size": 36, "strokeWidth": 1, "opacity": 1},
  "encoding": {
   "x": {"field": "h", "type": "quantitative", "scale": {"type": "log", "domain": [0.0508, 0.615], "nice": false}, "axis": {"orient": "top", "values": [0.1, 0.316228], "labels": false, "tickSize": -4, "grid": false, "title": null}},
   "y": {"field": "err", "type": "quantitative", "scale": {"type": "log", "domain": [1e-14, 1], "nice": false}, "axis": {"orient": "right", "values": [1e-14, 1e-10, 1e-6, 0.01], "labels": false, "tickSize": -4, "grid": false, "title": null}},
   "color": {"field": "series", "type": "nominal", "scale": {"domain": ["ϵ = 10⁰","ϵ = 10⁻¹","ϵ = 10⁻²","ϵ = 10⁻³","ϵ = 10⁻⁴","ϵ = 10⁻⁵"], "range": ["#ff0000","#00ff00","#0000ff","#ff8000","#008080","#800080"]}},
   "shape": {"field": "series", "type": "nominal", "scale": {"domain": ["ϵ = 10⁻⁵","ϵ = 10⁻⁴","ϵ = 10⁻³","ϵ = 10⁻²","ϵ = 10⁻¹","ϵ = 10⁰"], "range": ["M0,-1L0.6,0L0,1L-0.6,0Z","M-1,0L1,0M-0.5,-0.87L0.5,0.87M-0.5,0.87L0.5,-0.87","M0,-1L1,0.75L-1,0.75Z","circle","M-1,0L1,0M0,-1L0,1","M-0.7,-0.7L0.7,0.7M-0.7,0.7L0.7,-0.7"]}, "legend": null}
  }},
 {"data": {"name": "tri"}, "transform": [{"filter": "datum.row == 'rho' && datum.panel == 'Third order'"}],
  "mark": {"type": "line", "color": "black", "strokeWidth": 0.9},
  "encoding": {
   "x": {"field": "h", "type": "quantitative", "scale": {"type": "log", "domain": [0.0508, 0.615], "nice": false}, "axis": null},
   "y": {"field": "err", "type": "quantitative", "scale": {"type": "log", "domain": [1e-14, 1], "nice": false}, "axis": null},
   "order": {"field": "pt", "type": "quantitative"}
  }},
 {"data": {"name": "slope"}, "transform": [{"filter": "datum.row == 'rho' && datum.panel == 'Third order'"}],
  "mark": {"type": "text", "font": "Liberation Serif", "fontSize": 16, "color": "black"},
  "encoding": {
   "x": {"field": "h", "type": "quantitative", "scale": {"type": "log", "domain": [0.0508, 0.615], "nice": false}, "axis": null},
   "y": {"field": "err", "type": "quantitative", "scale": {"type": "log", "domain": [1e-14, 1], "nice": false}, "axis": null},
   "text": {"field": "label"}
  }}
 ]},
{"width": 217, "height": 180,
 "resolve": {"axis": {"x": "independent", "y": "independent"}},
 "layer": [
 {"data": {"name": "curves"}, "transform": [{"filter": "datum.row == 'rho' && datum.panel == 'Fourth order'"}],
  "mark": {"type": "line", "strokeWidth": 1.1},
  "encoding": {
   "x": {"field": "h", "type": "quantitative", "scale": {"type": "log", "domain": [0.0508, 0.615], "nice": false}, "axis": {"orient": "bottom", "values": [0.1, 0.316228], "labelExpr": "datum.value < 0.2 ? '10⁻¹' : '10⁻⁰·⁵'", "tickSize": -4, "labelPadding": 10, "grid": true, "title": "h", "titleFontStyle": "italic", "titlePadding": 6}},
   "y": {"field": "err", "type": "quantitative", "scale": {"type": "log", "domain": [1e-14, 1], "nice": false}, "axis": {"orient": "left", "values": [1e-14, 1e-10, 1e-6, 0.01], "labels": false, "tickSize": -4, "grid": true, "title": null}},
   "color": {"field": "series", "type": "nominal", "scale": {"domain": ["ϵ = 10⁰","ϵ = 10⁻¹","ϵ = 10⁻²","ϵ = 10⁻³","ϵ = 10⁻⁴","ϵ = 10⁻⁵"], "range": ["#ff0000","#00ff00","#0000ff","#ff8000","#008080","#800080"]}}
  }},
 {"data": {"name": "curves"}, "transform": [{"filter": "datum.row == 'rho' && datum.panel == 'Fourth order'"}],
  "mark": {"type": "point", "filled": false, "size": 36, "strokeWidth": 1, "opacity": 1},
  "encoding": {
   "x": {"field": "h", "type": "quantitative", "scale": {"type": "log", "domain": [0.0508, 0.615], "nice": false}, "axis": {"orient": "top", "values": [0.1, 0.316228], "labels": false, "tickSize": -4, "grid": false, "title": null}},
   "y": {"field": "err", "type": "quantitative", "scale": {"type": "log", "domain": [1e-14, 1], "nice": false}, "axis": {"orient": "right", "values": [1e-14, 1e-10, 1e-6, 0.01], "labels": false, "tickSize": -4, "grid": false, "title": null}},
   "color": {"field": "series", "type": "nominal", "scale": {"domain": ["ϵ = 10⁰","ϵ = 10⁻¹","ϵ = 10⁻²","ϵ = 10⁻³","ϵ = 10⁻⁴","ϵ = 10⁻⁵"], "range": ["#ff0000","#00ff00","#0000ff","#ff8000","#008080","#800080"]}},
   "shape": {"field": "series", "type": "nominal", "scale": {"domain": ["ϵ = 10⁻⁵","ϵ = 10⁻⁴","ϵ = 10⁻³","ϵ = 10⁻²","ϵ = 10⁻¹","ϵ = 10⁰"], "range": ["M0,-1L0.6,0L0,1L-0.6,0Z","M-1,0L1,0M-0.5,-0.87L0.5,0.87M-0.5,0.87L0.5,-0.87","M0,-1L1,0.75L-1,0.75Z","circle","M-1,0L1,0M0,-1L0,1","M-0.7,-0.7L0.7,0.7M-0.7,0.7L0.7,-0.7"]}, "legend": null}
  }},
 {"data": {"name": "tri"}, "transform": [{"filter": "datum.row == 'rho' && datum.panel == 'Fourth order'"}],
  "mark": {"type": "line", "color": "black", "strokeWidth": 0.9},
  "encoding": {
   "x": {"field": "h", "type": "quantitative", "scale": {"type": "log", "domain": [0.0508, 0.615], "nice": false}, "axis": null},
   "y": {"field": "err", "type": "quantitative", "scale": {"type": "log", "domain": [1e-14, 1], "nice": false}, "axis": null},
   "order": {"field": "pt", "type": "quantitative"}
  }},
 {"data": {"name": "slope"}, "transform": [{"filter": "datum.row == 'rho' && datum.panel == 'Fourth order'"}],
  "mark": {"type": "text", "font": "Liberation Serif", "fontSize": 16, "color": "black"},
  "encoding": {
   "x": {"field": "h", "type": "quantitative", "scale": {"type": "log", "domain": [0.0508, 0.615], "nice": false}, "axis": null},
   "y": {"field": "err", "type": "quantitative", "scale": {"type": "log", "domain": [1e-14, 1], "nice": false}, "axis": null},
   "text": {"field": "label"}
  }}
 ]}
]}
]
}
